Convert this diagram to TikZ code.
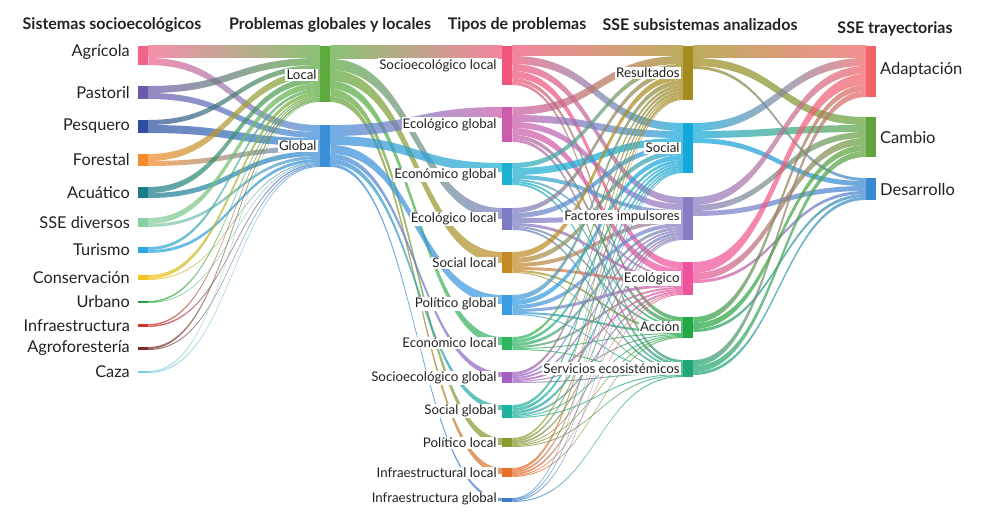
\documentclass[tikz,border=0pt]{standalone}
\usepackage{fontspec}
\setmainfont{Lato}
\pgfdeclarelayer{flows}
\pgfsetlayers{flows,main}
% colours
\definecolor{cagr}{HTML}{F0648C}\definecolor{cpas}{HTML}{6E5AAA}\definecolor{cpes}{HTML}{2E4FA0}
\definecolor{cfor}{HTML}{F58A2A}\definecolor{cacu}{HTML}{1A7D8A}\definecolor{csse}{HTML}{86CFA0}
\definecolor{ctur}{HTML}{2AA6E0}\definecolor{ccon}{HTML}{F2C21E}\definecolor{curb}{HTML}{22A33A}
\definecolor{cinf}{HTML}{D2312E}\definecolor{cagf}{HTML}{7A2A2A}\definecolor{ccaz}{HTML}{78CCDC}
\definecolor{cloc}{HTML}{5DAA3E}\definecolor{cglo}{HTML}{3B8ED8}
\definecolor{csel}{HTML}{F0567A}\definecolor{ceg}{HTML}{CC5BAA}\definecolor{cecg}{HTML}{1FB0CF}
\definecolor{cel}{HTML}{7B7CC4}\definecolor{csl}{HTML}{C48A26}\definecolor{cpg}{HTML}{3A9BE2}
\definecolor{cecl}{HTML}{2DB562}\definecolor{cseg}{HTML}{A460C0}\definecolor{csg}{HTML}{1EB29E}
\definecolor{cpl}{HTML}{8A9A2E}\definecolor{cil}{HTML}{E5702E}\definecolor{cig}{HTML}{3A7BCB}
\definecolor{cres}{HTML}{A38B1E}\definecolor{csoc}{HTML}{12A9DA}\definecolor{cfac}{HTML}{8A7CC4}
\definecolor{ceco}{HTML}{F0529E}\definecolor{cacc}{HTML}{22A845}\definecolor{cser}{HTML}{1FA874}
\definecolor{cada}{HTML}{F06468}\definecolor{ccam}{HTML}{62A33E}\definecolor{cdes}{HTML}{3A87D2}
\definecolor{txt}{HTML}{222222}
\makeatletter
\newcommand\flow[3]{%
 \ifcsname so@#1\endcsname\else\expandafter\gdef\csname so@#1\endcsname{0}\fi
 \ifcsname ti@#2\endcsname\else\expandafter\gdef\csname ti@#2\endcsname{0}\fi
 \edef\fa{\csname so@#1\endcsname}%
 \edef\fb{\csname ti@#2\endcsname}%
 \pgfmathsetmacro\fae{\fa+#3}%
 \pgfmathsetmacro\fbe{\fb+#3}%
 \begin{pgfonlayer}{flows}
 \shade[flowsty,left color=c#1,right color=c#2]
   ([yshift=-\fa pt]#1.north east) .. controls +(86,0) and +(-86,0) .. ([yshift=-\fb pt]#2.north west)
   -- ([yshift=-\fbe pt]#2.north west) .. controls +(-86,0) and +(86,0) .. ([yshift=-\fae pt]#1.north east) -- cycle;
 \end{pgfonlayer}
 \expandafter\xdef\csname so@#1\endcsname{\fae}%
 \expandafter\xdef\csname ti@#2\endcsname{\fbe}%
}
\makeatother
\begin{document}
\begin{tikzpicture}[x=1pt,y=-1pt,
  barsty/.style={rectangle,inner sep=0pt,minimum width=10pt,anchor=north west,draw=none},
  flowsty/.style={fill opacity=0.72},
  head/.style={font=\bfseries\fontsize{16}{18}\selectfont,text=txt},
  lab1/.style={font=\fontsize{16.3}{18}\selectfont,text=txt,anchor=east,inner sep=1pt},
  labm/.style={font=\fontsize{13.3}{15}\selectfont,text=txt,anchor=east,fill=white,inner sep=1.2pt},
  lab5/.style={font=\fontsize{16.5}{18}\selectfont,text=txt,anchor=west,inner sep=1pt}]
\useasboundingbox (0,0) rectangle (981,529);
% headers
\node[head] (h1) at (112,25) {Sistemas socioecológicos};
\node[head] (h2) at (330,25) {Problemas globales y locales};
\node[head] (h3) at (517,25) {Tipos de problemas};
\node[head] (h4) at (700,25) {SSE subsistemas analizados};
\node[head] (h5) at (895,29) {SSE trayectorias};
% column 1
\node[barsty,fill=cagr,minimum height=19pt] (agr) at (138,46) {};
\node[barsty,fill=cpas,minimum height=13pt] (pas) at (138,86) {};
\node[barsty,fill=cpes,minimum height=13pt] (pes) at (138,120) {};
\node[barsty,fill=cfor,minimum height=12pt] (for) at (138,154) {};
\node[barsty,fill=cacu,minimum height=11pt] (acu) at (138,187) {};
\node[barsty,fill=csse,minimum height=9pt] (sse) at (138,218) {};
\node[barsty,fill=ctur,minimum height=6pt] (tur) at (138,247) {};
\node[barsty,fill=ccon,minimum height=5pt] (con) at (138,275) {};
\node[barsty,fill=curb,minimum height=2pt] (urb) at (138,301) {};
\node[barsty,fill=cinf,minimum height=3pt] (inf) at (138,324) {};
\node[barsty,fill=cagf,minimum height=3pt] (agf) at (138,347) {};
\node[barsty,fill=ccaz,minimum height=2pt] (caz) at (138,371) {};
% column 2
\node[barsty,fill=cloc,minimum height=56pt] (loc) at (320,46) {};
\node[barsty,fill=cglo,minimum height=42pt] (glo) at (320,125) {};
% column 3
\node[barsty,fill=csel,minimum height=39pt] (sel) at (502,46) {};
\node[barsty,fill=ceg,minimum height=35pt] (eg) at (502,107) {};
\node[barsty,fill=cecg,minimum height=22pt] (ecg) at (502,163) {};
\node[barsty,fill=cel,minimum height=22pt] (el) at (502,208) {};
\node[barsty,fill=csl,minimum height=21pt] (sl) at (502,252) {};
\node[barsty,fill=cpg,minimum height=20pt] (pg) at (502,295) {};
\node[barsty,fill=cecl,minimum height=13pt] (ecl) at (502,337) {};
\node[barsty,fill=cseg,minimum height=11pt] (seg) at (502,372) {};
\node[barsty,fill=csg,minimum height=13pt] (sg) at (502,405) {};
\node[barsty,fill=cpl,minimum height=9pt] (pl) at (502,438) {};
\node[barsty,fill=cil,minimum height=9pt] (il) at (502,468) {};
\node[barsty,fill=cig,minimum height=4pt] (ig) at (502,498) {};
% column 4
\node[barsty,fill=cres,minimum height=54pt] (res) at (683,46) {};
\node[barsty,fill=csoc,minimum height=50pt] (soc) at (683,123) {};
\node[barsty,fill=cfac,minimum height=43pt] (fac) at (683,197) {};
\node[barsty,fill=ceco,minimum height=33pt] (eco) at (683,262) {};
\node[barsty,fill=cacc,minimum height=21pt] (acc) at (683,317) {};
\node[barsty,fill=cser,minimum height=17pt] (ser) at (683,360) {};
% column 5
\node[barsty,fill=cada,minimum height=51pt] (ada) at (866,46) {};
\node[barsty,fill=ccam,minimum height=40pt] (cam) at (866,117) {};
\node[barsty,fill=cdes,minimum height=22pt] (des) at (866,178) {};
% flows 1 -> 2
\flow{agr}{loc}{12}\flow{agr}{glo}{7}
\flow{pas}{loc}{7}\flow{pas}{glo}{6}
\flow{pes}{loc}{5}\flow{pes}{glo}{8}
\flow{for}{loc}{7}\flow{for}{glo}{5}
\flow{acu}{loc}{6}\flow{acu}{glo}{5}
\flow{sse}{loc}{6}\flow{sse}{glo}{3}
\flow{tur}{loc}{3}\flow{tur}{glo}{3}
\flow{con}{loc}{4}\flow{con}{glo}{1}
\flow{urb}{loc}{1.5}\flow{urb}{glo}{0.5}
\flow{inf}{loc}{1.5}\flow{inf}{glo}{1.5}
\flow{agf}{loc}{2}\flow{agf}{glo}{1}
\flow{caz}{loc}{1}\flow{caz}{glo}{1}
% flows 2 -> 3
\flow{loc}{sel}{13}\flow{loc}{el}{11}\flow{loc}{sl}{11}\flow{loc}{ecl}{8}\flow{loc}{pl}{7}\flow{loc}{il}{6}
\flow{glo}{eg}{11}\flow{glo}{ecg}{9}\flow{glo}{pg}{9}\flow{glo}{seg}{5}\flow{glo}{sg}{5}\flow{glo}{ig}{3}
% flows 3 -> 4
\flow{sel}{res}{10}\flow{sel}{soc}{8}\flow{sel}{fac}{7}\flow{sel}{eco}{7}\flow{sel}{acc}{4}\flow{sel}{ser}{3}
\flow{eg}{res}{8}\flow{eg}{soc}{7}\flow{eg}{fac}{6}\flow{eg}{eco}{7}\flow{eg}{acc}{4}\flow{eg}{ser}{3}
\flow{ecg}{res}{5}\flow{ecg}{soc}{7}\flow{ecg}{fac}{4}\flow{ecg}{eco}{2}\flow{ecg}{acc}{2}\flow{ecg}{ser}{2}
\flow{el}{res}{5}\flow{el}{soc}{5}\flow{el}{fac}{5}\flow{el}{eco}{3}\flow{el}{acc}{2}\flow{el}{ser}{2}
\flow{sl}{res}{6}\flow{sl}{soc}{5}\flow{sl}{fac}{4}\flow{sl}{eco}{3}\flow{sl}{acc}{2}\flow{sl}{ser}{1}
\flow{pg}{res}{5}\flow{pg}{soc}{5}\flow{pg}{fac}{4}\flow{pg}{eco}{3}\flow{pg}{acc}{2}\flow{pg}{ser}{1}
\flow{ecl}{res}{3}\flow{ecl}{soc}{3}\flow{ecl}{fac}{3}\flow{ecl}{eco}{2}\flow{ecl}{acc}{1}\flow{ecl}{ser}{1}
\flow{seg}{res}{3}\flow{seg}{soc}{2}\flow{seg}{fac}{2}\flow{seg}{eco}{2}\flow{seg}{acc}{1}\flow{seg}{ser}{1}
\flow{sg}{res}{3}\flow{sg}{soc}{3}\flow{sg}{fac}{3}\flow{sg}{eco}{2}\flow{sg}{acc}{1}\flow{sg}{ser}{1}
\flow{pl}{res}{2}\flow{pl}{soc}{2}\flow{pl}{fac}{2}\flow{pl}{eco}{1}\flow{pl}{acc}{1}\flow{pl}{ser}{1}
\flow{il}{res}{3}\flow{il}{soc}{2}\flow{il}{fac}{2}\flow{il}{eco}{1}\flow{il}{acc}{1}
\flow{ig}{res}{1}\flow{ig}{soc}{1}\flow{ig}{fac}{1}\flow{ig}{ser}{1}
% flows 4 -> 5
\flow{res}{ada}{12}\flow{res}{cam}{8}\flow{res}{des}{3}
\flow{soc}{ada}{8}\flow{soc}{cam}{7}\flow{soc}{des}{5}
\flow{fac}{ada}{8}\flow{fac}{cam}{6}\flow{fac}{des}{5}
\flow{eco}{ada}{11}\flow{eco}{cam}{7}\flow{eco}{des}{3}
\flow{acc}{ada}{6}\flow{acc}{cam}{6}\flow{acc}{des}{3}
\flow{ser}{ada}{6}\flow{ser}{cam}{6}\flow{ser}{des}{3}
% labels column 1
\node[lab1] (tagr) at (131,52) {Agrícola};
\node[lab1] (tpas) at (131,92.5) {Pastoril};
\node[lab1] (tpes) at (131,126.5) {Pesquero};
\node[lab1] (tfor) at (131,160) {Forestal};
\node[lab1] (tacu) at (131,192.5) {Acuático};
\node[lab1] (tsse) at (131,222.5) {SSE diversos};
\node[lab1] (ttur) at (131,250) {Turismo};
\node[lab1] (tcon) at (131,277.5) {Conservación};
\node[lab1] (turb) at (131,302) {Urbano};
\node[lab1] (tinf) at (131,325.5) {Infraestructura};
\node[lab1] (tagf) at (131,348.5) {Agroforestería};
\node[lab1] (tcaz) at (131,372) {Caza};
% labels column 2
\node[labm] (tloc) at (318,75) {Local};
\node[labm] (tglo) at (318,146) {Global};
% labels column 3
\node[labm] (tsel) at (498,65.5) {Socioecológico local};
\node[labm] (teg) at (498,124.5) {Ecológico global};
\node[labm] (tecg) at (498,175) {Económico global};
\node[labm] (tel) at (498,219) {Ecológico local};
\node[labm] (tsl) at (498,263) {Social local};
\node[labm] (tpg) at (498,304) {Político global};
\node[labm] (tecl) at (498,343) {Económico local};
\node[labm] (tseg) at (498,378) {Socioecológico global};
\node[labm] (tsg) at (498,411) {Social global};
\node[labm] (tpl) at (498,443) {Político local};
\node[labm] (til) at (498,473) {Infraestructural local};
\node[labm] (tig) at (498,499) {Infraestructura global};
% labels column 4
\node[labm] (tres) at (681,73) {Resultados};
\node[labm] (tsoc) at (681,148) {Social};
\node[labm] (tfac) at (681,217) {Factores impulsores};
\node[labm] (teco) at (681,278.5) {Ecológico};
\node[labm] (tacc) at (681,327) {Acción};
\node[labm] (tser) at (681,368.5) {Servicios ecosistémicos};
% labels column 5
\node[lab5] (tada) at (879,70) {Adaptación};
\node[lab5] (tcam) at (879,137) {Cambio};
\node[lab5] (tdes) at (879,189) {Desarrollo};
\end{tikzpicture}
\end{document}
